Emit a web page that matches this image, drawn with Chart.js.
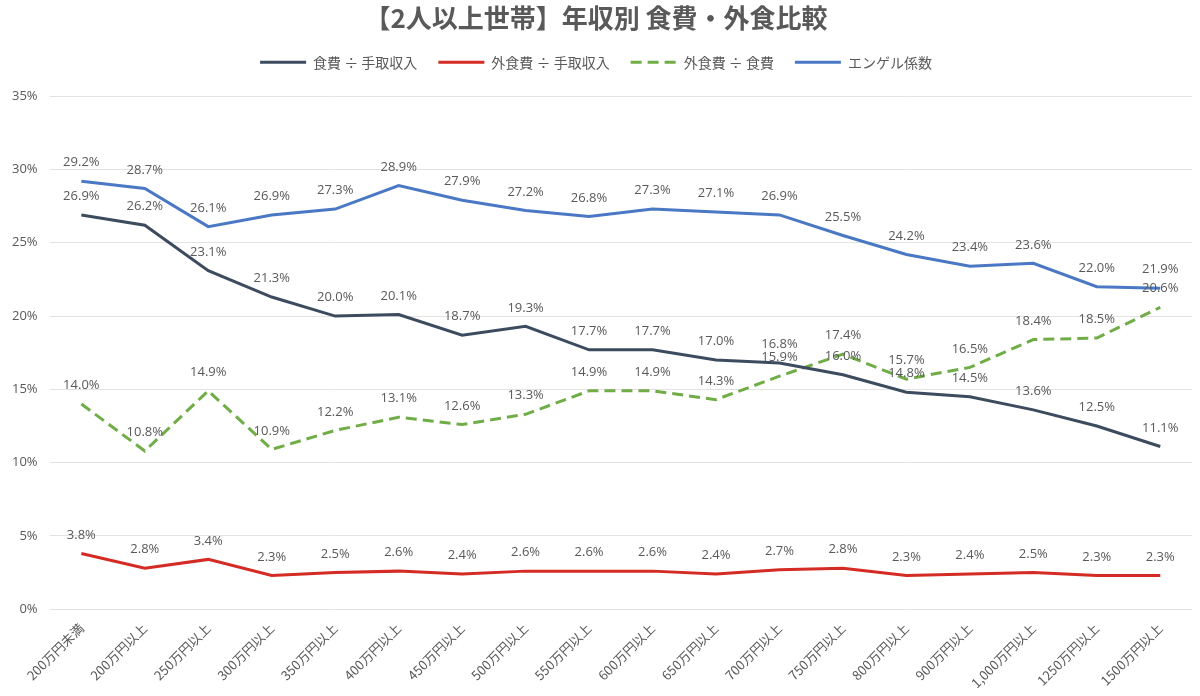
<!DOCTYPE html>
<html lang="ja">
  <head>
    <meta charset="UTF-8" />
    <title>年収別 食費・外食比較</title>
    <script src="https://cdn.jsdelivr.net/npm/chart.js"></script>
    <style>
      html, body { margin: 0; padding: 0; background: #fff; }
      #wrap { width: 1200px; height: 696px; }
    </style>
  </head>
  <body>
    <div id="wrap"><canvas id="chart" width="1200" height="696"></canvas></div>

    <script>
      // categories (income brackets)
      const categories = [
        "200万円未満", "200万円以上", "250万円以上", "300万円以上", "350万円以上",
        "400万円以上", "450万円以上", "500万円以上", "550万円以上", "600万円以上",
        "650万円以上", "700万円以上", "750万円以上", "800万円以上", "900万円以上",
        "1,000万円以上", "1250万円以上", "1500万円以上"
      ];

      // series values (%)
      const foodPerIncome = [26.9, 26.2, 23.1, 21.3, 20.0, 20.1, 18.7, 19.3, 17.7, 17.7, 17.0, 16.8, 16.0, 14.8, 14.5, 13.6, 12.5, 11.1];
      const eatOutPerIncome = [3.8, 2.8, 3.4, 2.3, 2.5, 2.6, 2.4, 2.6, 2.6, 2.6, 2.4, 2.7, 2.8, 2.3, 2.4, 2.5, 2.3, 2.3];
      const eatOutPerFood = [14.0, 10.8, 14.9, 10.9, 12.2, 13.1, 12.6, 13.3, 14.9, 14.9, 14.3, 15.9, 17.4, 15.7, 16.5, 18.4, 18.5, 20.6];
      const engel = [29.2, 28.7, 26.1, 26.9, 27.3, 28.9, 27.9, 27.2, 26.8, 27.3, 27.1, 26.9, 25.5, 24.2, 23.4, 23.6, 22.0, 21.9];

      const seriesNames = ["食費 ÷ 手取収入", "外食費 ÷ 手取収入", "外食費 ÷ 食費", "エンゲル係数"];
      const yTicks = [0, 5, 10, 15, 20, 25, 30, 35];

      const TEXT = "#595959";
      const FONT = "'Open Sans', 'Noto Sans CJK JP', sans-serif";
      const JP = "'Noto Sans CJK JP', sans-serif";

      // value labels above every point
      const valueLabels = {
        id: "valueLabels",
        afterDatasetsDraw(chart) {
          const ctx = chart.ctx;
          ctx.save();
          ctx.fillStyle = TEXT;
          ctx.font = "13px " + FONT;
          ctx.textAlign = "center";
          ctx.textBaseline = "bottom";
          chart.data.datasets.forEach((ds, i) => {
            const meta = chart.getDatasetMeta(i);
            meta.data.forEach((pt, j) => {
              ctx.fillText(ds.data[j].toFixed(1) + "%", pt.x, pt.y - 12);
            });
          });
          ctx.restore();
        },
      };

      // a bit more room under the legend
      const legendGap = {
        id: "legendGap",
        beforeInit(chart) {
          const fit = chart.legend.fit;
          chart.legend.fit = function () {
            fit.bind(chart.legend)();
            this.height += 17;
          };
        },
      };

      function line(label, data, color, dash) {
        return {
          label,
          data,
          borderColor: color,
          backgroundColor: color,
          borderWidth: 3,
          borderDash: dash || [],
          pointRadius: 0,
          tension: 0,
        };
      }

      new Chart(document.getElementById("chart"), {
        type: "line",
        data: {
          labels: categories,
          datasets: [
            line(seriesNames[0], foodPerIncome, "#3d4b5f"),
            line(seriesNames[1], eatOutPerIncome, "#d42b24"),
            line(seriesNames[2], eatOutPerFood, "#70ad47", [11, 6]),
            line(seriesNames[3], engel, "#4a78c4"),
          ],
        },
        options: {
          responsive: false,
          animation: false,
          layout: { padding: { left: 0, right: 8, top: 0, bottom: 2 } },
          plugins: {
            title: {
              display: true,
              text: "【2人以上世帯】年収別 食費・外食比較",
              color: TEXT,
              font: { family: JP, size: 26, weight: "bold" },
              padding: { top: 3, bottom: 0 },
            },
            legend: {
              labels: {
                color: TEXT,
                font: { family: JP, size: 14 },
                usePointStyle: true,
                pointStyle: "line",
                pointStyleWidth: 46,
                boxHeight: 14,
                padding: 21,
                generateLabels(chart) {
                  return Chart.defaults.plugins.legend.labels.generateLabels(chart).map((item) => {
                    const ds = chart.data.datasets[item.datasetIndex];
                    item.lineDash = ds.borderDash;
                    item.lineWidth = 3;
                    item.strokeStyle = ds.borderColor;
                    return item;
                  });
                },
              },
            },
            tooltip: { enabled: false },
          },
          scales: {
            x: {
              offset: true,
              grid: { display: false },
              border: { display: false },
              ticks: {
                color: TEXT,
                font: { family: JP, size: 13 },
                minRotation: 45,
                maxRotation: 45,
                autoSkip: false,
              },
            },
            y: {
              min: 0,
              max: 35,
              afterBuildTicks: (axis) => {
                axis.ticks = yTicks.map((v) => ({ value: v }));
              },
              grid: { color: "#e3e3e3", drawTicks: false },
              border: { display: false },
              ticks: {
                color: TEXT,
                font: { family: FONT, size: 13 },
                padding: 12,
                callback: (v) => v + "%",
              },
            },
          },
        },
        plugins: [valueLabels, legendGap],
      });
    </script>
  </body>
</html>
